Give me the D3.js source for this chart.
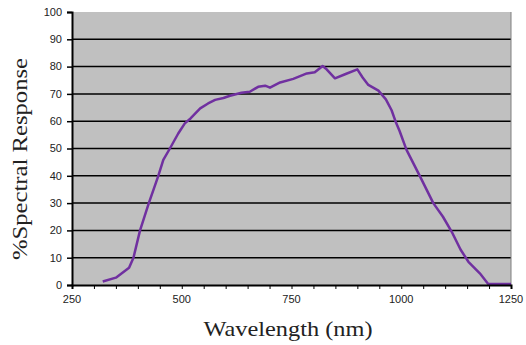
<!DOCTYPE html>
<html>
<head>
<meta charset="utf-8">
<script src="https://cdn.jsdelivr.net/npm/d3@7"></script>
<style>
  body { margin: 0; background: #fff; }
  svg { display: block; }
</style>
</head>
<body>
<div id="chart"></div>
<script>
// Dados
const wavelength = [320, 350, 380, 390, 405, 425, 446, 458, 473, 492, 507, 520, 542, 560, 576, 595, 610, 636, 655, 674, 690, 701, 724, 754, 785, 803, 821, 830, 849, 872, 900, 912, 925, 948, 965, 978, 988, 996, 1012, 1043, 1073, 1095, 1115, 1135, 1153, 1179, 1198, 1250];
const response = [1.3, 2.7, 6.3, 10, 20, 30, 39.7, 45.8, 50, 55.5, 59.2, 61, 64.7, 66.5, 67.8, 68.5, 69.3, 70.4, 70.8, 72.6, 73, 72.3, 74.2, 75.5, 77.5, 77.9, 80.2, 79, 75.7, 77.2, 79, 76, 73.3, 71.2, 68, 64, 59.5, 56.5, 49.5, 39.7, 30, 25, 19.5, 13, 8.5, 4.3, 0.4, 0.4];
const xTicks = [250, 500, 750, 1000, 1250];
const yTicks = [0, 10, 20, 30, 40, 50, 60, 70, 80, 90, 100];

const data = wavelength.map((w, i) => ({ w: w, v: response[i] }));

const width = 526, height = 345;
const margin = { left: 72, top: 12, right: 15, bottom: 60 };
const innerW = width - margin.left - margin.right;
const innerH = height - margin.top - margin.bottom;

const x = d3.scaleLinear().domain([250, 1250]).range([0, innerW]);
const y = d3.scaleLinear().domain([0, 100]).range([innerH, 0]);

const svg = d3.select("#chart").append("svg")
    .attr("width", width)
    .attr("height", height);

const g = svg.append("g").attr("transform", `translate(${margin.left},${margin.top})`);

// Fundo cinza da área de plotagem
g.append("rect")
    .attr("width", innerW)
    .attr("height", innerH)
    .attr("fill", "#c0c0c0");

// Linhas de grade
g.selectAll(".grid")
    .data(yTicks.filter(t => t > 0 && t < 100))
    .enter()
    .append("line")
    .attr("x1", 0).attr("x2", innerW)
    .attr("y1", d => y(d)).attr("y2", d => y(d))
    .attr("stroke", "#000")
    .attr("stroke-width", 1.5);

// Borda direita
g.append("line")
    .attr("x1", innerW).attr("x2", innerW)
    .attr("y1", 0).attr("y2", innerH)
    .attr("stroke", "#808080")
    .attr("stroke-width", 1);

// Curva
g.append("path")
    .datum(data)
    .attr("fill", "none")
    .attr("stroke", "#7030a0")
    .attr("stroke-width", 2.5)
    .attr("stroke-linejoin", "round")
    .attr("d", d3.line().x(d => x(d.w)).y(d => y(d.v)));

// Eixo X
const xAxis = g.append("g")
    .attr("transform", `translate(0,${innerH})`)
    .call(d3.axisBottom(x).tickValues(d3.range(250, 1251, 50)).tickSize(4).tickFormat(""));
xAxis.select(".domain").attr("stroke", "#000").attr("stroke-width", 2);
xAxis.selectAll(".tick line").attr("stroke", "#000");

g.selectAll(".xlabel")
    .data(xTicks)
    .enter()
    .append("text")
    .attr("x", d => x(d))
    .attr("y", innerH + 18)
    .attr("text-anchor", "middle")
    .style("font-family", "Liberation Sans, Arial, sans-serif")
    .style("font-size", "11px")
    .attr("fill", "#222")
    .text(d => d);

// Eixo Y
const yAxis = g.append("g")
    .call(d3.axisLeft(y).tickValues(yTicks).tickSize(5).tickFormat(""));
yAxis.select(".domain").attr("stroke", "#000").attr("stroke-width", 2);
yAxis.selectAll(".tick line").attr("stroke", "#000").attr("stroke-width", 1.5);

g.selectAll(".ylabel")
    .data(yTicks)
    .enter()
    .append("text")
    .attr("x", -10)
    .attr("y", d => y(d))
    .attr("dy", "0.35em")
    .attr("text-anchor", "end")
    .style("font-family", "Liberation Sans, Arial, sans-serif")
    .style("font-size", "11px")
    .attr("fill", "#222")
    .text(d => d);

// Títulos dos eixos
svg.append("text")
    .attr("x", 288)
    .attr("y", 336)
    .attr("text-anchor", "middle")
    .attr("textLength", 169)
    .attr("lengthAdjust", "spacingAndGlyphs")
    .style("font-family", "Liberation Serif, Times New Roman, serif")
    .style("font-size", "22px")
    .attr("fill", "#222")
    .text("Wavelength (nm)");

svg.append("text")
    .attr("transform", "translate(27,159) rotate(-90)")
    .attr("text-anchor", "middle")
    .attr("textLength", 202)
    .attr("lengthAdjust", "spacingAndGlyphs")
    .style("font-family", "Liberation Serif, Times New Roman, serif")
    .style("font-size", "22px")
    .attr("fill", "#222")
    .text("%Spectral Response");
</script>
</body>
</html>
